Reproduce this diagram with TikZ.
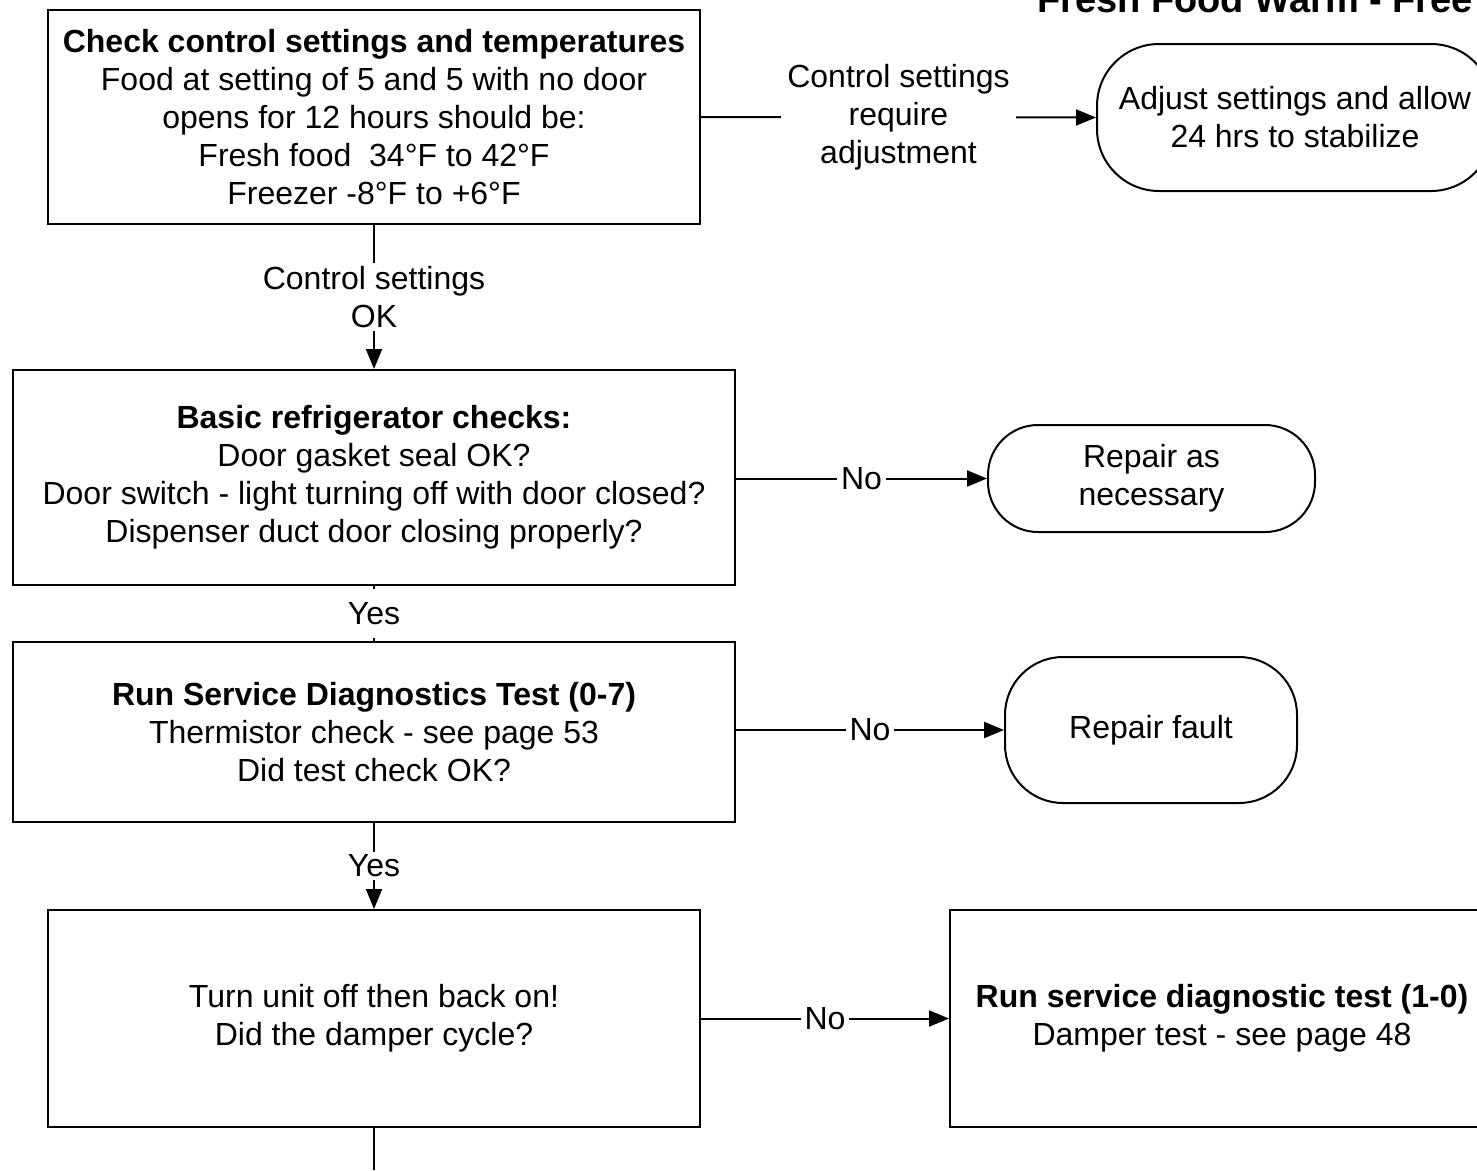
\documentclass[tikz,border=0pt]{standalone}
\usepackage{fontspec}
\setmainfont{Liberation Sans}
\usetikzlibrary{arrows.meta}
\begin{document}
\begin{tikzpicture}[x=1pt,y=-1pt,
  every node/.style={font=\fontsize{32}{38}\selectfont, align=center, inner sep=0pt},
  procbox/.style={draw, line width=2pt, rectangle},
  termbox/.style={draw, line width=2pt, rectangle, rounded corners=#1},
  conn/.style={line width=2pt},
  arr/.style={conn, -{Triangle[length=20pt,width=16pt]}},
  lbl/.style={fill=white, inner xsep=4pt, inner ysep=3pt}]
\useasboundingbox (0,0) rectangle (1477,1170);
\clip (0,0) rectangle (1477,1170);

% page heading, running off the top right corner
\node[anchor=base west, font=\fontsize{38}{44}\selectfont\bfseries] (title) at (1037,12) {Fresh Food Warm - Free};

% process steps
\node[procbox, minimum width=652pt, minimum height=214pt] (b1) at (374,117)
  {\textbf{Check control settings and temperatures}\\
   Food at setting of 5 and 5 with no door\\
   opens for 12 hours should be:\\
   Fresh food\ \ 34°F to 42°F\\
   Freezer -8°F to +6°F};
\node[procbox, minimum width=722pt, minimum height=215pt] (b2) at (374,477.5)
  {\textbf{Basic refrigerator checks:}\\
   Door gasket seal OK?\\
   Door switch - light turning off with door closed?\\
   Dispenser duct door closing properly?};
\node[procbox, minimum width=722pt, minimum height=180pt] (b3) at (374,732)
  {\textbf{Run Service Diagnostics Test (0-7)}\\
   Thermistor check - see page 53\\
   Did test check OK?};
\node[procbox, minimum width=652pt, minimum height=217pt] (b4) at (374,1018.5)
  {Turn unit off then back on!\\
   Did the damper cycle?};
\node[procbox, minimum width=544pt, minimum height=217pt] (b5) at (1222,1018.5)
  {\textbf{Run service diagnostic test (1-0)}\\
   Damper test - see page 48};

% terminal actions
\node[termbox=62pt, minimum width=396pt, minimum height=147pt] (t1) at (1295,117.5)
  {Adjust settings and allow\\24 hrs to stabilize};
\node[termbox=50pt, minimum width=327pt, minimum height=107pt] (t2) at (1151.5,478.5)
  {Repair as\\necessary};
\node[termbox=58pt, minimum width=292pt, minimum height=146pt] (t3) at (1151,730)
  {Repair fault};

\coordinate (bottom) at (374,1170);

% connectors
\draw[arr] (b1.east) -- node[lbl, inner xsep=6pt]{Control settings\\require\\adjustment} (t1.west);
\draw[arr] (b1.south) -- node[lbl]{Control settings\\OK} (b2.north);
\draw[arr] (b2.east |- t2.west) -- node[lbl]{No} (t2.west);
\draw[conn] (b2.south) -- node[lbl, inner ysep=13pt]{Yes} (b3.north);
\draw[arr] (b3.east |- t3.west) -- node[lbl]{No} (t3.west);
\draw[arr] (b3.south) -- node[lbl]{Yes} (b4.north);
\draw[arr] (b4.east) -- node[lbl]{No} (b5.west);
\draw[conn] (b4.south) -- (bottom);
\end{tikzpicture}
\end{document}
